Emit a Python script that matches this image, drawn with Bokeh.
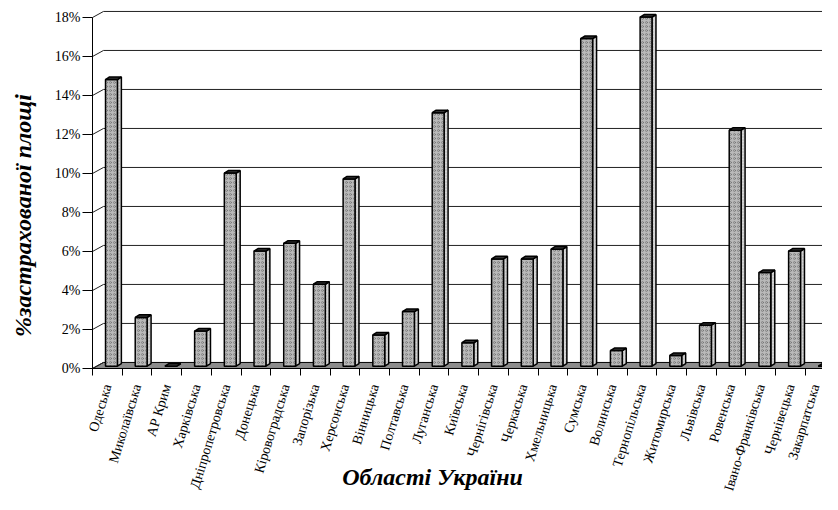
import math
from bokeh.plotting import figure
from bokeh.models import Range1d, FixedTicker, Label
from bokeh.embed import file_html
from bokeh.resources import INLINE

# ---- data ----
regions = ["Одеська", "Миколаївська", "АР Крим", "Харківська", "Дніпропетровська",
           "Донецька", "Кіровоградська", "Запорізька", "Херсонська", "Вінницька",
           "Полтавська", "Луганська", "Київська", "Чернігівська", "Черкаська",
           "Хмельницька", "Сумська", "Волинська", "Тернопільська", "Житомирська",
           "Львівська", "Ровенська", "Івано-Франківська", "Чернівецька", "Закарпатська"]
values = [14.7, 2.5, 0.0, 1.8, 9.9, 5.9, 6.3, 4.2, 9.6, 1.6, 2.8, 13.0, 1.2, 5.5, 5.5,
          6.0, 16.8, 0.8, 17.9, 0.55, 2.1, 12.1, 4.8, 5.9, 0.0]
y_ticks = [0, 2, 4, 6, 8, 10, 12, 14, 16, 18]
y_tick_labels = ["0%", "2%", "4%", "6%", "8%", "10%", "12%", "14%", "16%", "18%"]
x_title = "Області України"
y_title = "%застрахованої площі"

# ---- 3D look (style constants) ----
WALL_X, WALL_Y = 0.37, 0.31      # depth of the floor / back wall
BAR_SHIFT, BAR_W = 0.138, 0.40   # front face position and width
DEP_X, DEP_Y = 0.134, 0.13       # bar depth
BASE = 0.12                      # bar base above front floor edge

n = len(regions)
idx = list(range(n))

p = figure(width=822, height=494, output_backend="svg", toolbar_location=None,
           x_range=Range1d(-3.598, 24.079), y_range=Range1d(-6.462, 18.872),
           min_border=0)
p.outline_line_color = None
p.xgrid.visible = False
p.ygrid.visible = False
p.background_fill_color = "white"

# floor
p.patch([-0.5, n - 0.5, n - 0.5 + WALL_X, -0.5 + WALL_X], [0, 0, WALL_Y, WALL_Y],
        fill_color="#8c8c8c", line_color="black", line_width=1)

# back-wall gridlines
gl_x0 = [-0.5 + WALL_X for t in y_ticks[1:]]
gl_x1 = [n + 1 for t in y_ticks[1:]]
gl_y = [t + WALL_Y for t in y_ticks[1:]]
p.segment(x0=gl_x0, y0=gl_y, x1=gl_x1, y1=gl_y, line_color="#222222", line_width=1)
p.segment(x0=[-0.5] * len(y_ticks), y0=y_ticks,
          x1=[-0.5 + WALL_X] * len(y_ticks), y1=[t + WALL_Y for t in y_ticks],
          line_color="#222222", line_width=1)

# bars
lefts = [i + BAR_SHIFT - BAR_W / 2 for i in idx]
rights = [i + BAR_SHIFT + BAR_W / 2 for i in idx]
tops = [v + BASE for v in values]

side_xs = [[r, r + DEP_X, r + DEP_X, r] for r in rights]
side_ys = [[BASE, BASE + DEP_Y, t + DEP_Y, t] for t in tops]
p.patches(side_xs, side_ys, fill_color="#d6d6d6", line_color="black", line_width=1.5,
          hatch_pattern="dot", hatch_color="#8a8a8a", hatch_scale=3, hatch_alpha=0.5)

p.vbar(x=[i + BAR_SHIFT for i in idx], width=BAR_W, bottom=BASE, top=tops,
       fill_color="#b9b9b9", line_color="black", line_width=1.5,
       hatch_pattern="ring", hatch_color="#666666", hatch_scale=4, hatch_alpha=0.6)

top_xs = [[l, r, r + DEP_X, l + DEP_X] for l, r in zip(lefts, rights)]
top_ys = [[t, t, t + DEP_Y, t + DEP_Y] for t in tops]
p.patches(top_xs, top_ys, fill_color="#333333", line_color="black", line_width=1.5)

# axes (fixed inside the frame)
ya = p.yaxis[0]
ya.fixed_location = -0.5
ya.ticker = FixedTicker(ticks=y_ticks)
ya.major_label_overrides = {t: s for t, s in zip(y_ticks, y_tick_labels)}
ya.bounds = (0, 18)
ya.minor_tick_line_color = None
ya.major_tick_out = 10
ya.major_tick_in = 0
ya.major_label_standoff = 2
ya.axis_line_color = "black"
ya.major_tick_line_color = "black"
ya.major_label_text_font = "Liberation Serif"
ya.major_label_text_font_size = "14px"
ya.major_label_text_color = "black"

xa = p.xaxis[0]
xa.fixed_location = 0
xa.ticker = FixedTicker(ticks=idx, minor_ticks=[i - 0.5 for i in range(n + 1)])
xa.major_label_overrides = {i: r for i, r in zip(idx, regions)}
xa.bounds = (-0.5, n - 0.5)
xa.major_tick_out = 0
xa.major_tick_in = 0
xa.minor_tick_out = 7
xa.minor_tick_in = 0
xa.minor_tick_line_color = "black"
xa.axis_line_color = "black"
xa.major_label_orientation = 1.274
xa.major_label_standoff = 9
xa.major_label_text_font = "Liberation Serif"
xa.major_label_text_font_size = "14px"
xa.major_label_text_color = "black"

# titles
p.add_layout(Label(x=10.948, y=-5.59, text=x_title, text_align="center",
                   text_baseline="alphabetic", text_font="Liberation Serif",
                   text_font_style="bold italic", text_font_size="24px",
                   text_color="black"))
p.add_layout(Label(x=-2.857, y=7.846, text=y_title, angle=math.pi / 2,
                   text_align="center", text_baseline="middle",
                   text_font="Liberation Serif", text_font_style="bold italic",
                   text_font_size="24px", text_color="black"))

open("out.html", "w").write(file_html(p, INLINE))
